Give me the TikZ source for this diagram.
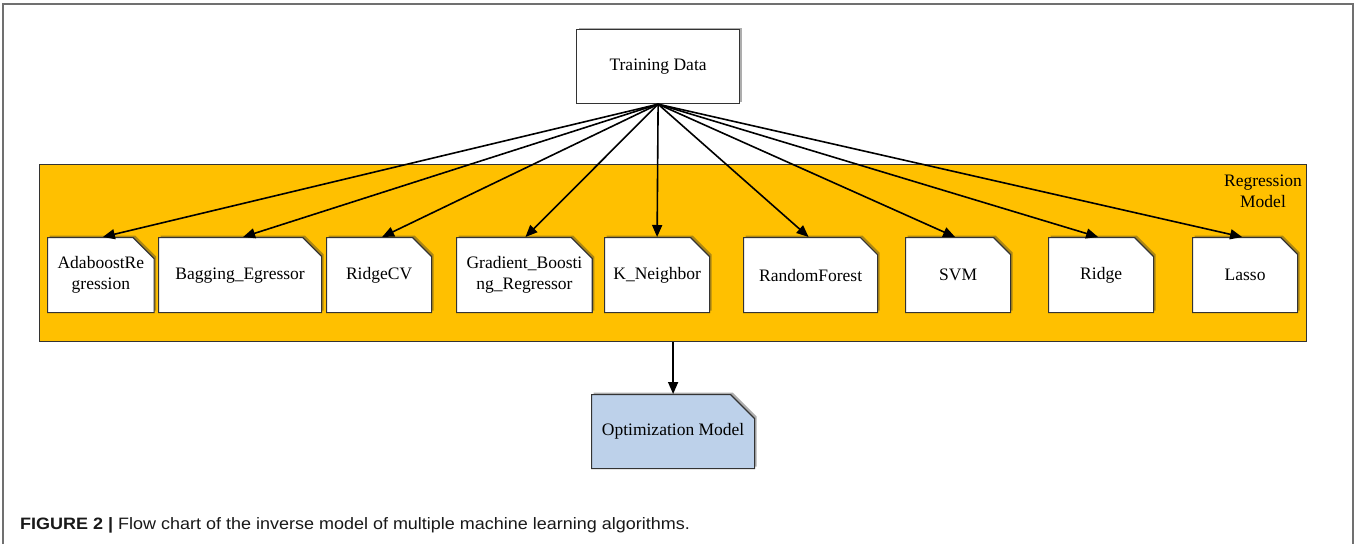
\documentclass[tikz,border=0pt]{standalone}
\usepackage{fontspec}
\setmainfont{Liberation Serif}
\setsansfont{Liberation Sans}
\usetikzlibrary{arrows.meta,shapes.misc,shadows}
\definecolor{gold}{HTML}{FFC000}
\definecolor{optblue}{HTML}{BDD1EA}
\definecolor{edgegray}{HTML}{333333}
\definecolor{framegray}{HTML}{707070}
\begin{document}
\begin{tikzpicture}[x=1pt,y=-1pt,
  glow/.style={drop shadow={shadow xshift=2pt, shadow yshift=2pt, opacity=0.4, fill=black!80}},
  boxfont/.style={font=\fontsize{17.5}{21}\selectfont},
  algbox/.style={chamfered rectangle, chamfered rectangle corners=north east,
    chamfered rectangle xsep=10pt, chamfered rectangle ysep=11pt,
    draw=edgegray, line width=1.2pt, fill=white, anchor=north west,
    minimum height=75pt, inner sep=0pt, align=center, boxfont, glow},
  topbox/.style={rectangle, draw=edgegray, line width=1.2pt, fill=white, anchor=north west,
    minimum width=163pt, minimum height=74pt, inner sep=0pt, boxfont, glow},
  regbox/.style={rectangle, draw=edgegray, line width=1.2pt, fill=gold, anchor=north west, inner sep=0pt},
  arr/.style={-{Triangle[length=12pt,width=10pt]}, line width=1.6pt, black},
]
\useasboundingbox (0,0) rectangle (1359,544);
\fill[white] (0,0) rectangle (1359,544);
\draw[framegray, line width=1.8pt] (3,544) -- (3,4) -- (1353,4) -- (1353,544);

\node[regbox, minimum width=1267pt, minimum height=177pt] (reg) at (39,164) {};
\node[align=center, boxfont, text=black] (reglabel) at (1263,191) {Regression\\Model};

\node[topbox] (td) at (576,29) {\raisebox{-2pt}{Training Data}};

\node[algbox, minimum width=106pt] (ada) at (47,237) {AdaboostRe\\gression};
\node[algbox, minimum width=163pt] (bag) at (158,237) {Bagging\_Egressor};
\node[algbox, minimum width=105pt] (rcv) at (326,237) {RidgeCV};
\node[algbox, minimum width=132pt] (gb) at (456,237) {Gradient\_Boosti\\ng\_Regressor};
\node[algbox, minimum width=105pt] (kn) at (604,237) {K\_Neighbor};
\node[algbox, minimum width=134pt] (rf) at (743,237) {RandomForest};
\node[algbox, minimum width=105pt] (svm) at (905,237) {SVM};
\node[algbox, minimum width=105pt] (ridge) at (1048,237) {Ridge};
\node[algbox, minimum width=105pt] (lasso) at (1192,237) {Lasso};

\node[algbox, fill=optblue, minimum width=163pt, minimum height=74pt,
  chamfered rectangle xsep=16pt, chamfered rectangle ysep=16pt] (opt) at (591,394) {Optimization Model};

\draw[arr] (td.south) -- ([xshift=2pt]ada.north);
\draw[arr] (td.south) -- ([xshift=3pt]bag.north);
\draw[arr] (td.south) -- ([xshift=3pt]rcv.north);
\draw[arr] (td.south) -- ([xshift=1pt]gb.north);
\draw[arr] (td.south) -- (kn.north);
\draw[arr] (td.south) -- ([xshift=-2pt]rf.north);
\draw[arr] (td.south) -- ([xshift=-3pt]svm.north);
\draw[arr] (td.south) -- ([xshift=-3pt]ridge.north);
\draw[arr] (td.south) -- ([xshift=-3pt]lasso.north);

\draw[arr] (reg.south -| opt.north) -- (opt.north);

\node[anchor=base west, font=\sffamily\fontsize{16.5}{19}\selectfont, text=black!90, inner sep=0pt] (cap) at (20,529)
  {\scalebox{1.09}[1]{\textbf{FIGURE 2 |} Flow chart of the inverse model of multiple machine learning algorithms.}};
\end{tikzpicture}
\end{document}
